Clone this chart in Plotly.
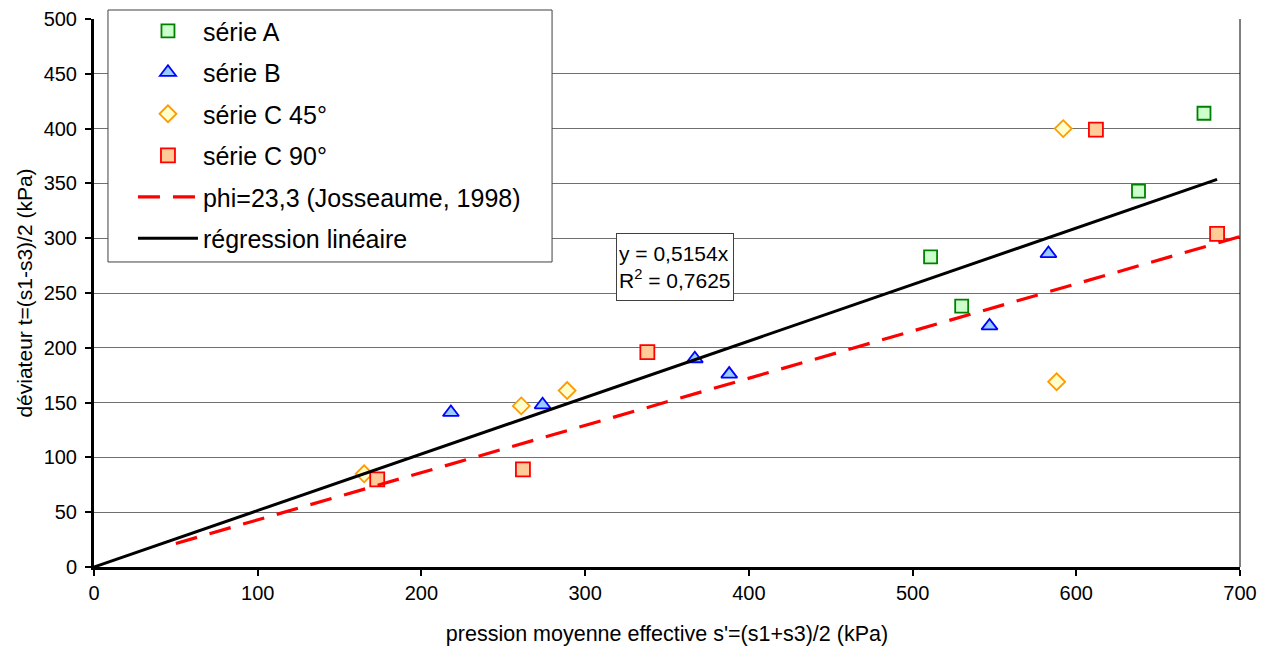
import plotly.graph_objects as go

# ---- data ----
serieA_x = [511, 530, 638, 678]
serieA_y = [283, 238, 343, 414]

serieB_x = [218, 274, 367, 388, 547, 583]
serieB_y = [141, 148, 190, 176, 220, 286]

serieC45_x = [165, 261, 289, 592, 588]
serieC45_y = [85, 147, 161, 400, 169]

serieC90_x = [173, 262, 338, 612, 686]
serieC90_y = [80, 89, 196, 399, 304]

phi_x = [50, 750]
phi_y = [21.5, 323]

reg_x = [0, 686]
reg_y = [0, 353.6]

reg_label = "y = 0,5154x<br>R<sup>2</sup> = 0,7625"

FONT = "Liberation Sans, Arial, sans-serif"

# page body has an 8px margin, so the figure is drawn 8px in from the window edge
W, H = 1266, 640

fig = go.Figure()

def grp(name):
    return dict(legendgroup=name, name=name)

fig.add_trace(go.Scatter(x=serieA_x, y=serieA_y, mode="markers", **grp("série A"),
                         marker=dict(symbol="square", size=13, color="#ccffcc",
                                     line=dict(color="#008000", width=1.8))))
fig.add_trace(go.Scatter(x=serieB_x, y=serieB_y, mode="markers", **grp("série B"),
                         marker=dict(symbol="triangle-up", size=14, color="#99ccff",
                                     line=dict(color="#0000ff", width=1.8))))
fig.add_trace(go.Scatter(x=serieC45_x, y=serieC45_y, mode="markers", **grp("série C 45°"),
                         marker=dict(symbol="diamond", size=13, color="#ffffcc",
                                     line=dict(color="#ff9900", width=1.8))))
fig.add_trace(go.Scatter(x=serieC90_x, y=serieC90_y, mode="markers", **grp("série C 90°"),
                         marker=dict(symbol="square", size=14, color="#ffcc99",
                                     line=dict(color="#ff0000", width=1.8))))
fig.add_trace(go.Scatter(x=phi_x, y=phi_y, mode="lines", **grp("phi=23,3 (Josseaume, 1998)"),
                         line=dict(color="#ff0000", width=3.2, dash="22px,13px")))
fig.add_trace(go.Scatter(x=reg_x, y=reg_y, mode="lines", **grp("régression linéaire"),
                         line=dict(color="#000000", width=3)))

fig.add_annotation(x=355, y=274, xref="x", yref="y", text=reg_label, showarrow=False,
                   align="left", valign="middle", height=62, width=112,
                   font=dict(family=FONT, size=21, color="#000000"),
                   bgcolor="white", bordercolor="#404040", borderwidth=1, borderpad=2)

# legend frame (white box behind the legend entries)
fig.add_shape(type="rect", xref="paper", yref="paper", layer="above",
              x0=0.0122, x1=0.3997, y0=0.5566, y1=1.0164,
              fillcolor="white", line=dict(color="#404040", width=1))

# thin right border of plot area
fig.add_shape(type="line", xref="paper", yref="paper", x0=1, x1=1, y0=0, y1=1,
              line=dict(color="#000000", width=1))

fig.update_layout(
    width=W, height=H,
    margin=dict(l=86, r=34, t=11, b=81, autoexpand=False),
    plot_bgcolor="white", paper_bgcolor="white",
    font=dict(family=FONT, size=20, color="#000000"),
    showlegend=True,
    legend=dict(x=0.034, y=1.02, xanchor="left", yanchor="top",
                bgcolor="rgba(0,0,0,0)", borderwidth=0,
                font=dict(family=FONT, size=25), tracegroupgap=6,
                itemwidth=60, traceorder="grouped"),
    xaxis=dict(range=[0, 700], dtick=100, tick0=0, showgrid=False, zeroline=False,
               showline=True, linecolor="#000000", linewidth=3,
               ticks="outside", ticklen=6, tickwidth=2, tickcolor="#000000",
               tickfont=dict(family=FONT, size=20),
               title=dict(text="pression moyenne effective s'=(s1+s3)/2 (kPa)",
                          font=dict(family=FONT, size=21.5), standoff=23)),
    yaxis=dict(range=[0, 500], dtick=50, tick0=0, showgrid=True, gridcolor="#707070",
               gridwidth=1, zeroline=False,
               showline=True, linecolor="#000000", linewidth=3,
               ticks="outside", ticklen=6, tickwidth=2, tickcolor="#000000",
               ticklabelstandoff=4,
               tickfont=dict(family=FONT, size=20),
               title=dict(text="déviateur t=(s1-s3)/2 (kPa)",
                          font=dict(family=FONT, size=21), standoff=6)),
)

fig.write_html("out.html")
